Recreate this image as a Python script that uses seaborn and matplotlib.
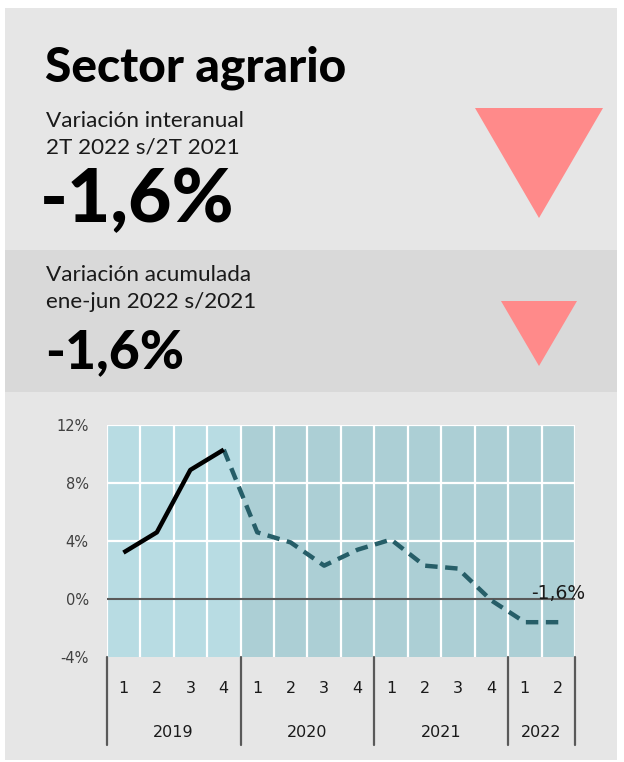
import matplotlib
matplotlib.use("Agg")
import matplotlib.pyplot as plt
from matplotlib.patches import Rectangle, Polygon
import seaborn as sns
import pandas as pd

# datos
quarters = ["1", "2", "3", "4", "1", "2", "3", "4", "1", "2", "3", "4", "1", "2"]
years = ["2019", "2020", "2021", "2022"]
quarters_per_year = [4, 4, 4, 2]
variacion = [3.2, 4.6, 8.9, 10.3, 4.6, 3.9, 2.3, 3.4, 4.1, 2.3, 2.1, -0.1, -1.6, -1.6]
yticks = [-4, 0, 4, 8, 12]
last_label = "-1,6%"

titulo = "Sector agrario"
sub1 = "Variación interanual\n2T 2022 s/2T 2021"
val1 = "-1,6%"
sub2 = "Variación acumulada\nene-jun 2022 s/2021"
val2 = "-1,6%"

sns.set_theme(style="white")
plt.rcParams["font.family"] = ["DejaVu Sans"]

W, H = 624, 762
fig = plt.figure(figsize=(W / 100, H / 100), dpi=100)
fig.patch.set_facecolor("white")

# fondo en pixeles
bg = fig.add_axes([0, 0, 1, 1])
bg.set_xlim(0, W)
bg.set_ylim(H, 0)
bg.axis("off")
bg.add_patch(Rectangle((5, 8), 612, 752, color="#e6e6e6", lw=0))
bg.add_patch(Rectangle((5, 250), 612, 142, color="#d9d9d9", lw=0))
bg.add_patch(Polygon([(475, 108), (603, 108), (539, 218)], color="#ff8a8a", lw=0))
bg.add_patch(Polygon([(501, 301), (577, 301), (539, 366)], color="#ff8a8a", lw=0))

head_font = ["Lato", "DejaVu Sans"]
bg.text(45, 82, titulo, fontsize=34.5, fontweight=900, family=head_font,
        color="black", va="baseline")
bg.text(46, 154, sub1, fontsize=16.2, family=head_font, color="#1a1a1a",
        va="baseline", linespacing=1.42)
bg.text(40, 222, val1, fontsize=54, fontweight=900, family=head_font,
        color="black", va="baseline")
bg.text(46, 308, sub2, fontsize=16.2, family=head_font, color="#1a1a1a",
        va="baseline", linespacing=1.42)
bg.text(45, 368, val2, fontsize=38.5, fontweight=900, family=head_font,
        color="black", va="baseline")

# grafico
x0, x1, y0, y1 = 106.7, 575, 425, 657
ax = fig.add_axes([x0 / W, 1 - y1 / H, (x1 - x0) / W, (y1 - y0) / H])
n = len(variacion)
df = pd.DataFrame({"x": range(n), "v": variacion})

ax.axvspan(-0.5, 3.5, color="#b8dce3", lw=0, zorder=0)
ax.axvspan(3.5, n - 0.5, color="#accfd5", lw=0, zorder=0)
for i in range(n + 1):
    ax.axvline(i - 0.5, color="white", lw=1.6, zorder=1)
for t in yticks[1:]:
    if t != 0:
        ax.axhline(t, color="white", lw=1.6, zorder=1)
ax.axhline(0, color="#595959", lw=1.5, zorder=2)

sns.lineplot(data=df.iloc[3:], x="x", y="v", ax=ax, color="#265e68", lw=3.2,
             linestyle=(0, (2.8, 1.7)), zorder=3)
sns.lineplot(data=df.iloc[:4], x="x", y="v", ax=ax, color="black", lw=3.2,
             zorder=4, solid_capstyle="butt")

ax.text(n - 1, variacion[-1] + 1.95, last_label, fontsize=13.5, color="#1a1a1a",
        ha="center", va="center", zorder=5)

ax.set_xlim(-0.5, n - 0.5)
ax.set_ylim(-4, 12)
ax.set_yticks(yticks)
ax.set_yticklabels([f"{t}%" for t in yticks], fontsize=10.5, color="#404040")
ax.tick_params(axis="y", length=0, pad=13)
ax.set_xticks([])
ax.set_xlabel("")
ax.set_ylabel("")
for s in ax.spines.values():
    s.set_visible(False)

# etiquetas del eje x
trans = ax.get_xaxis_transform()
for i, q in enumerate(quarters):
    ax.text(i, -0.135, q, transform=trans, ha="center", va="center",
            fontsize=11.5, color="#1a1a1a", clip_on=False)
start = 0
bounds = [start]
for yr, k in zip(years, quarters_per_year):
    ax.text(start + (k - 1) / 2, -0.325, yr, transform=trans, ha="center",
            va="center", fontsize=11.5, color="#1a1a1a", clip_on=False)
    start += k
    bounds.append(start)
for b in bounds:
    ax.plot([b - 0.5, b - 0.5], [0, -0.38], transform=trans, color="#595959",
            lw=1.6, clip_on=False)

fig.savefig("out.png", dpi=100, facecolor=fig.get_facecolor())
